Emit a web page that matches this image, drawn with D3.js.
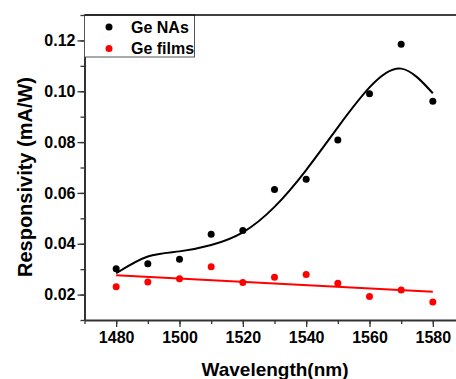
<!DOCTYPE html>
<html>
<head>
<meta charset="utf-8">
<script src="https://cdn.jsdelivr.net/npm/d3@7"></script>
<style>
  body { margin: 0; background: #fff; }
  svg { display: block; font-family: "Liberation Sans", Arial, sans-serif; font-weight: bold; }
</style>
</head>
<body>
<div id="chart"></div>
<script>
// Data
const wavelengths = [1480, 1490, 1500, 1510, 1520, 1530, 1540, 1550, 1560, 1570, 1580];
const geNAs   = [0.0302, 0.0321, 0.0339, 0.0437, 0.0452, 0.0613, 0.0654, 0.0808, 0.0990, 0.1185, 0.0961];
const geFilms = [0.0231, 0.0250, 0.0262, 0.0310, 0.0248, 0.0268, 0.0279, 0.0245, 0.0192, 0.0218, 0.0171];

// fitted curves as drawn in the picture
const fitNAsX = [1480, 1490, 1500, 1510, 1520, 1530, 1540, 1550, 1560, 1570, 1580];
const fitNAsY = [0.0284, 0.0350, 0.0370, 0.0395, 0.0445, 0.0545, 0.0690, 0.0858, 0.1015, 0.1089, 0.0992];
const fitFilmsX = [1480, 1580];
const fitFilmsY = [0.0276, 0.0211];

const xTicks = [1480, 1500, 1520, 1540, 1560, 1580];
const yTicks = [0.02, 0.04, 0.06, 0.08, 0.10, 0.12];
const seriesNames = ["Ge NAs", "Ge films"];
const seriesColors = ["#000000", "#ff0000"];

const W = 456, H = 379;

const svg = d3.select("#chart")
  .append("svg")
  .attr("width", W)
  .attr("height", H);

// Scales
const x = d3.scaleLinear().domain([1470, 1590]).range([84.5, 464.5]);
const y = d3.scaleLinear().domain([0.01, 0.13]).range([320, 15]);

// Minor ticks
svg.append("g")
  .attr("transform", `translate(0,${y(0.01)})`)
  .call(d3.axisBottom(x).tickValues(d3.range(1470, 1591, 10)).tickSize(4).tickFormat(""))
  .call(g => g.select(".domain").remove())
  .selectAll("line").attr("stroke", "#333").attr("stroke-width", 1.3);

svg.append("g")
  .attr("transform", `translate(${x(1470)},0)`)
  .call(d3.axisLeft(y).tickValues(d3.range(1, 14).map(d => d / 100)).tickSize(4).tickFormat(""))
  .call(g => g.select(".domain").remove())
  .selectAll("line").attr("stroke", "#333").attr("stroke-width", 1.3);

// Major axes
const xAxis = svg.append("g")
  .attr("transform", `translate(0,${y(0.01)})`)
  .call(d3.axisBottom(x).tickValues(xTicks).tickSize(7).tickSizeOuter(0).tickPadding(5).tickFormat(d3.format("d")));

const yAxis = svg.append("g")
  .attr("transform", `translate(${x(1470)},0)`)
  .call(d3.axisLeft(y).tickValues(yTicks).tickSize(7).tickSizeOuter(0).tickPadding(2).tickFormat(d3.format(".2f")));

[xAxis, yAxis].forEach(g => {
  g.select(".domain").attr("stroke", "#333").attr("stroke-width", 2);
  g.selectAll(".tick line").attr("stroke", "#333").attr("stroke-width", 1.3);
  g.selectAll(".tick text")
    .attr("fill", "#000")
    .style("font-size", "16px")
    .style("font-weight", "bold")
    .style("font-family", "'Liberation Sans', Arial, sans-serif");
});

// Axis titles
svg.append("text")
  .attr("x", 275).attr("y", 376)
  .attr("text-anchor", "middle")
  .style("font-size", "19px")
  .text("Wavelength(nm)");

svg.append("text")
  .attr("transform", "translate(32,177) rotate(-90)")
  .attr("text-anchor", "middle")
  .style("font-size", "20px")
  .text("Responsivity (mA/W)");

// Fit lines
const line = d3.line()
  .x(d => x(d[0]))
  .y(d => y(d[1]));

svg.append("path")
  .datum(d3.zip(fitFilmsX, fitFilmsY))
  .attr("fill", "none")
  .attr("stroke", seriesColors[1])
  .attr("stroke-width", 2)
  .attr("d", line);

svg.append("path")
  .datum(d3.zip(fitNAsX, fitNAsY))
  .attr("fill", "none")
  .attr("stroke", seriesColors[0])
  .attr("stroke-width", 2)
  .attr("d", line.curve(d3.curveNatural));

// Points
[geNAs, geFilms].forEach((vals, i) => {
  svg.append("g")
    .selectAll("circle")
    .data(d3.zip(wavelengths, vals))
    .enter()
    .append("circle")
    .attr("cx", d => x(d[0]))
    .attr("cy", d => y(d[1]))
    .attr("r", 3.5)
    .attr("fill", seriesColors[i]);
});

// Legend
const legend = svg.append("g");
legend.append("rect")
  .attr("x", x(1470)).attr("y", y(0.13))
  .attr("width", 110).attr("height", 42)
  .attr("fill", "#fff")
  .attr("stroke", "#555").attr("stroke-width", 1);

seriesNames.forEach((name, i) => {
  legend.append("circle")
    .attr("cx", 109).attr("cy", 27 + i * 21.5)
    .attr("r", 3.5)
    .attr("fill", seriesColors[i]);
  legend.append("text")
    .attr("x", 131).attr("y", 32.5 + i * 21.5)
    .style("font-size", "16px")
    .text(name);
});

// Top frame line
svg.append("line")
  .attr("x1", x(1470)).attr("x2", x(1590))
  .attr("y1", y(0.13)).attr("y2", y(0.13))
  .attr("stroke", "#000").attr("stroke-width", 1.3);
</script>
</body>
</html>
